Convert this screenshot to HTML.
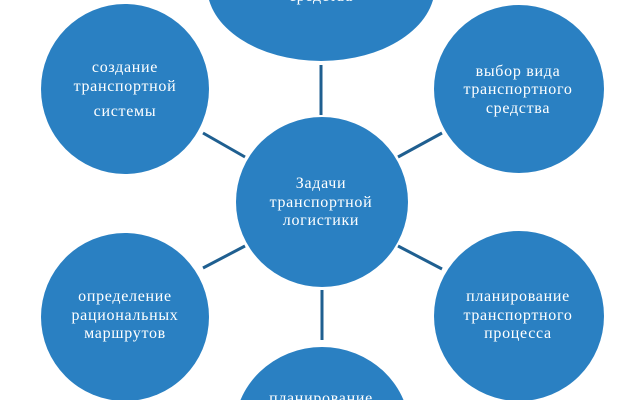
<!DOCTYPE html>
<html><head><meta charset="utf-8"><style>
html,body{margin:0;padding:0;background:#fff;width:640px;height:400px;overflow:hidden}
svg{display:block}
svg text{font-family:"Liberation Serif",serif;font-size:16px;fill:#fff;text-anchor:middle;letter-spacing:0.7px}
</style></head><body>
<svg width="640" height="400" viewBox="0 0 640 400">
<g stroke="#1f5f90" stroke-width="3">
<line x1="321" y1="65" x2="321" y2="115"/>
<line x1="322" y1="290" x2="322" y2="340"/>
<line x1="203" y1="133" x2="245" y2="157"/>
<line x1="398" y1="157" x2="442" y2="133"/>
<line x1="203" y1="268" x2="245" y2="246"/>
<line x1="398" y1="246" x2="442" y2="269"/>
</g>
<g fill="#2a80c2">
<ellipse cx="321" cy="-14" rx="114" ry="75"/>
<ellipse cx="125" cy="89" rx="84" ry="85"/>
<ellipse cx="519" cy="89" rx="85" ry="84"/>
<ellipse cx="322" cy="202" rx="86" ry="85"/>
<ellipse cx="125" cy="317" rx="84" ry="84"/>
<ellipse cx="519" cy="316" rx="85" ry="85"/>
<ellipse cx="322" cy="432" rx="88" ry="85"/>
</g>
<text x="321" y="1">средства</text>
<text x="125" y="72">создание</text>
<text x="125" y="91">транспортной</text>
<text x="125" y="116">системы</text>
<text x="518" y="76">выбор вида</text>
<text x="518" y="94">транспортного</text>
<text x="518" y="113">средства</text>
<text x="321" y="188">Задачи</text>
<text x="321" y="207">транспортной</text>
<text x="321" y="225">логистики</text>
<text x="125" y="301">определение</text>
<text x="125" y="320">рациональных</text>
<text x="125" y="338">маршрутов</text>
<text x="518" y="301">планирование</text>
<text x="518" y="320">транспортного</text>
<text x="518" y="338">процесса</text>
<text x="321" y="403">планирование</text>
</svg>
</body></html>
